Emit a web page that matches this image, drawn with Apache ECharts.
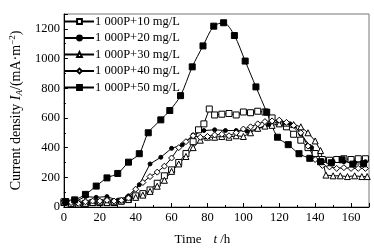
<!DOCTYPE html>
<html>
<head>
<meta charset="utf-8">
<script src="https://cdn.jsdelivr.net/npm/echarts@6/dist/echarts.min.js"></script>
<style>
  html, body { margin: 0; padding: 0; background: #fff; }
  #chart { width: 374px; height: 251px; }
</style>
</head>
<body>
<div id="chart"></div>
<script>
// series names
const names = ['1 000P+10 mg/L', '1 000P+20 mg/L', '1 000P+30 mg/L', '1 000P+40 mg/L', '1 000P+50 mg/L'];

// time (h) and current density (mA/m2)
const t10 = [0, 4, 8, 12, 16, 20, 24, 28, 32, 36, 40, 44, 48, 52, 56, 60, 64, 68, 72, 75, 78, 81, 84, 88, 92, 96, 100, 104, 108, 112, 116, 120, 124, 128, 132, 136, 140, 144, 148, 152, 156, 160, 164, 168];
const v10 = [35, 25, 20, 25, 30, 30, 35, 30, 40, 55, 75, 90, 115, 160, 210, 250, 300, 360, 440, 520, 560, 660, 620, 625, 630, 620, 640, 635, 645, 640, 600, 565, 540, 490, 450, 400, 360, 320, 315, 320, 325, 320, 325, 325];

const t20 = [0, 6, 12, 18, 24, 30, 36, 42, 48, 54, 60, 66, 72, 78, 84, 90, 96, 102, 108, 114, 120, 126, 132, 138, 144, 150, 156, 162, 168];
const v20 = [40, 35, 70, 65, 70, 45, 75, 150, 290, 335, 395, 420, 485, 515, 520, 515, 515, 510, 525, 555, 575, 560, 490, 400, 310, 305, 305, 300, 305];

const t30 = [0, 4, 8, 12, 16, 20, 24, 28, 32, 36, 40, 44, 48, 52, 56, 60, 64, 68, 72, 76, 80, 84, 88, 92, 96, 100, 104, 108, 112, 116, 120, 124, 128, 132, 136, 140, 143, 146, 150, 154, 158, 162, 166, 169];
const v30 = [30, 25, 20, 25, 30, 35, 30, 35, 40, 50, 65, 80, 105, 140, 180, 240, 290, 340, 400, 450, 470, 470, 475, 470, 480, 475, 500, 530, 545, 550, 560, 565, 555, 540, 500, 445, 380, 215, 210, 210, 205, 210, 205, 205];

const t40 = [0, 4, 8, 12, 16, 20, 24, 28, 32, 36, 40, 44, 48, 52, 56, 60, 64, 68, 72, 76, 80, 84, 88, 92, 96, 100, 104, 108, 112, 116, 120, 124, 128, 132, 136, 140, 144, 148, 152, 156, 160, 164, 168];
const v40 = [40, 30, 25, 35, 40, 40, 45, 40, 45, 60, 120, 165, 205, 235, 275, 330, 400, 440, 480, 470, 475, 485, 490, 480, 500, 525, 540, 560, 575, 580, 585, 570, 550, 500, 410, 320, 280, 270, 260, 265, 260, 260, 260];

const t50 = [1, 6, 12, 18, 24, 30, 36, 42, 47, 54, 59, 65, 71.5, 77.5, 83.5, 89, 95, 101, 107, 113, 119, 125, 131, 137, 143, 149, 155, 161, 167];
const v50 = [37, 48, 85, 141, 196, 226, 302, 359, 500, 587, 650, 750, 944, 1085, 1218, 1241, 1155, 983, 809, 639, 470, 420, 359, 328, 305, 298, 318, 289, 291];

const xTicks = { min: 0, max: 170, interval: 20 };
const yTicks = { min: 0, max: 1300, interval: 200 };

const zip = (t, v) => t.map((x, i) => [x, v[i]]);

const font = 'Liberation Serif';

const makeSeries = (name, t, v, symbol, fill, size, smooth) => ({
  name,
  type: 'line',
  data: zip(t, v),
  symbol,
  symbolSize: size,
  smooth: smooth || false,
  lineStyle: { color: '#000', width: 1 },
  itemStyle: { color: fill, borderColor: '#000', borderWidth: 1 },
  emphasis: { disabled: true }
});

const chart = echarts.init(document.getElementById('chart'));

chart.setOption({
  animation: false,
  textStyle: { fontFamily: font },
  grid: {
    left: 52, right: 5, top: 14, bottom: 37,
    show: true, borderColor: '#777', borderWidth: 1
  },
  legend: {
    orient: 'vertical',
    left: 59, top: 10,
    itemWidth: 29, itemHeight: 6, itemGap: 3.5,
    textStyle: { fontFamily: font, fontSize: 12.5, color: '#000', padding: [0, 0, 0, -4], lineHeight: 13 },
    data: names
  },
  xAxis: {
    type: 'value',
    min: xTicks.min, max: xTicks.max, interval: xTicks.interval,
    name: '{n|Time}    {i|t} {n|/h}',
    nameLocation: 'middle',
    nameGap: 26,
    nameTextStyle: {
      padding: [0, 28, 0, 0],
      rich: {
        n: { fontFamily: font, fontSize: 13, color: '#000' },
        i: { fontFamily: font, fontSize: 13, fontStyle: 'italic', color: '#000' }
      }
    },
    axisLine: { lineStyle: { color: '#000' } },
    axisTick: { inside: true, length: 4, lineStyle: { color: '#000' } },
    minorTick: { show: true, splitNumber: 2, length: 2, lineStyle: { color: '#000' } },
    axisLabel: { fontFamily: font, fontSize: 12.5, color: '#000', margin: 4, showMaxLabel: false },
    splitLine: { show: false }
  },
  yAxis: {
    type: 'value',
    min: yTicks.min, max: yTicks.max, interval: yTicks.interval,
    name: '{n|Current density }{i|I}{s|A}{n|/(mA·m}{p|−2}{n|)}',
    nameLocation: 'middle',
    nameRotate: 90,
    nameGap: 39,
    nameTextStyle: {
      rich: {
        n: { fontFamily: font, fontSize: 14, color: '#000' },
        i: { fontFamily: font, fontSize: 14, fontStyle: 'italic', color: '#000' },
        s: { fontFamily: font, fontSize: 9, fontStyle: 'italic', color: '#000', padding: [7, 0, 0, 0] },
        p: { fontFamily: font, fontSize: 9, color: '#000', padding: [0, 0, 7, 0] }
      }
    },
    axisLine: { lineStyle: { color: '#000' } },
    axisTick: { inside: true, length: 4, lineStyle: { color: '#000' } },
    minorTick: { show: true, splitNumber: 2, length: 2, lineStyle: { color: '#000' } },
    axisLabel: {
      fontFamily: font, fontSize: 12.5, color: '#000', margin: 4, showMaxLabel: false,
      formatter: (v) => String(v)
    },
    splitLine: { show: false }
  },
  series: [
    makeSeries(names[0], t10, v10, 'rect', '#fff', 6),
    makeSeries(names[1], t20, v20, 'circle', '#000', 4),
    makeSeries(names[2], t30, v30, 'triangle', '#fff', 6),
    makeSeries(names[3], t40, v40, 'diamond', '#fff', 6),
    makeSeries(names[4], t50, v50, 'rect', '#000', 6, 0.3)
  ]
});
</script>
</body>
</html>
